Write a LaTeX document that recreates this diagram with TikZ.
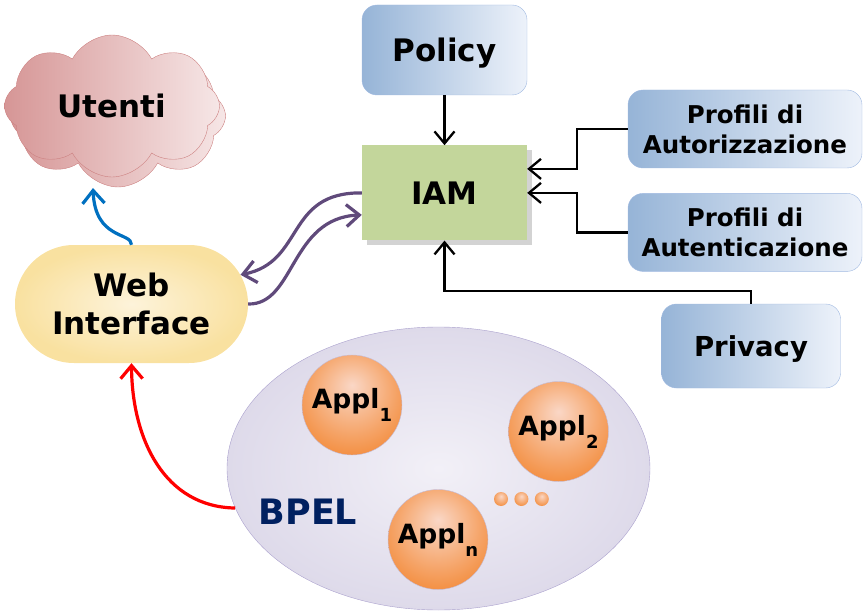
\documentclass[tikz,border=0pt]{standalone}
\usepackage{fontspec}
\setmainfont{DejaVu Sans}
\usetikzlibrary{arrows.meta,positioning,shapes.symbols,shapes.misc,shapes.geometric,shadows}
\definecolor{CloudDark}{RGB}{214,150,150}
\definecolor{CloudLight}{RGB}{246,230,230}
\definecolor{CloudLine}{RGB}{205,130,130}
\definecolor{BoxDark}{RGB}{150,180,215}
\definecolor{BoxLight}{RGB}{237,242,250}
\definecolor{BoxLine}{RGB}{160,185,225}
\definecolor{IamGreen}{RGB}{195,214,155}
\definecolor{WebLight}{RGB}{253,243,218}
\definecolor{WebDark}{RGB}{249,225,160}
\definecolor{BpelLight}{RGB}{242,240,247}
\definecolor{BpelDark}{RGB}{222,218,234}
\definecolor{BpelLine}{RGB}{170,160,205}
\definecolor{BpelBlue}{RGB}{0,32,96}
\definecolor{ApplLight}{RGB}{250,215,198}
\definecolor{ApplDark}{RGB}{243,140,60}
\definecolor{FlowPurple}{RGB}{96,74,123}
\definecolor{FlowBlue}{RGB}{0,112,192}
\pgfdeclareradialshading{applball}{\pgfpoint{0bp}{10bp}}{color(0bp)=(ApplLight);
  color(22bp)=(ApplDark!70!ApplLight); color(32bp)=(ApplDark); color(60bp)=(ApplDark)}
\newcommand\applsub[1]{\raisebox{-13pt}{\fontsize{18}{18}\selectfont #1}}
\tikzset{
  cloudbox/.style={cloud, cloud puffs=8, cloud puff arc=125, cloud ignores aspect,
    draw=CloudLine, left color=CloudDark, right color=CloudLight,
    minimum width=215pt, minimum height=142pt, inner sep=0pt,
    font=\bfseries\fontsize{31}{38}\selectfont},
  infobox/.style={draw=BoxLine, rounded corners=15pt, left color=BoxDark,
    right color=BoxLight, align=center, inner sep=0pt, text depth=0pt},
  iambox/.style={fill=IamGreen, minimum width=165pt, minimum height=95pt,
    inner sep=0pt, font=\bfseries\fontsize{31}{38}\selectfont,
    drop shadow={shadow xshift=5pt, shadow yshift=-5pt, opacity=0.35}},
  webbox/.style={rounded rectangle, inner color=WebLight, outer color=WebDark,
    minimum width=233pt, minimum height=118pt, inner sep=0pt, align=center,
    text depth=0pt, font=\bfseries\fontsize{31}{38}\selectfont},
  bpelbox/.style={ellipse, draw=BpelLine, inner color=BpelLight, outer color=BpelDark,
    minimum width=423pt, minimum height=283pt},
  appball/.style={circle, draw=BpelLine!70, shading=applball, minimum size=100pt,
    inner sep=0pt, font=\bfseries\fontsize{26.5}{28}\selectfont},
  dotball/.style={circle, shading=applball, minimum size=14pt, inner sep=0pt},
  bigfont/.style={font=\bfseries\fontsize{31}{38}\selectfont},
  smallfont/.style={font=\bfseries\fontsize{24.5}{30}\selectfont},
  arrow/.style={-{Straight Barb[length=12pt,width=20pt]}, line width=2.3pt},
  flow/.style={-{Straight Barb[length=13pt,width=22pt]}, line width=3.2pt}
}
\begin{document}
\begin{tikzpicture}[x=1pt,y=-1pt]
\useasboundingbox (0,0) rectangle (868,615);
% users
\node[cloudbox] (ubk) at (118,116) {};
\node[cloudbox] (utenti) at (112,106) {Utenti};
\coordinate (ubot) at (93,188);
% identity and access
\node[infobox, bigfont, minimum width=165pt, minimum height=90pt] (policy) at (444.5,50) {Policy};
\node[iambox, below=50pt of policy] (iam) {IAM};
\node[infobox, smallfont, minimum width=234pt, minimum height=78pt] (autz) at (745,129) {Profili di\\Autorizzazione};
\node[infobox, smallfont, minimum width=234pt, minimum height=78pt, below=25pt of autz] (autn) {Profili di\\Autenticazione};
\node[infobox, font=\bfseries\fontsize{27.5}{34}\selectfont, minimum width=179pt, minimum height=84pt] (privacy) at (751,346) {Privacy};
% front end
\node[webbox] (web) at (131.5,304) {Web\\Interface};
% process engine
\node[bpelbox] (bpel) at (438.5,468.5) {};
\node[appball] (app1) at (352,405) {Appl\applsub{1}};
\node[appball] (app2) at (558.5,431.5) {Appl\applsub{2}};
\node[appball] (appn) at (438,539.5) {Appl\applsub{n}};
\node[dotball] (dot1) at (501,499) {};
\node[dotball, right=6pt of dot1] (dot2) {};
\node[dotball, right=6pt of dot2] (dot3) {};
\node[font=\bfseries\fontsize{35}{38}\selectfont, text=BpelBlue, inner sep=0pt, text depth=0pt] (bpeltxt) at (308,512) {BPEL};
% connectors
\draw[arrow] (policy) -- (iam);
\draw[arrow] (autz.west) -- ++(-51,0) |- ([yshift=24pt]iam.east);
\draw[arrow] (autn.west) -- ++(-51,0) |- (iam.east);
\draw[arrow] (privacy.north) -- ++(0,-13) -| (iam.south);
\draw[flow, FlowPurple] (iam.west) .. controls (285,192) and (305,262) .. (web.15);
\draw[flow, FlowPurple] (web.east) .. controls (295,305) and (290,218) .. ([yshift=-22pt]iam.west);
\draw[flow, FlowBlue] (web.north) .. controls (132,232) and (95,240) .. (ubot);
\draw[flow, red] (bpel.191) .. controls (165,507) and (132,440) .. (web.south);
\end{tikzpicture}
\end{document}
